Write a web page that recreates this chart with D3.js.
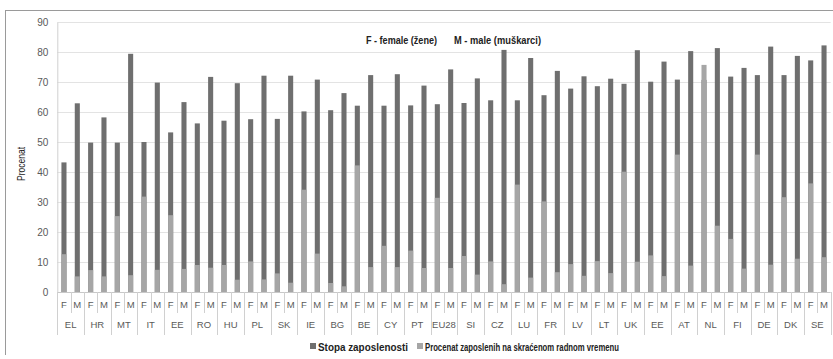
<!DOCTYPE html>
<html>
<head>
<meta charset="utf-8">
<script src="https://cdn.jsdelivr.net/npm/d3@7"></script>
<style>
  html, body { margin: 0; padding: 0; background: #fff; }
  svg { display: block; }
</style>
</head>
<body>
<svg id="chart" width="833" height="359"></svg>
<script>
const countries = ["EL","HR","MT","IT","EE","RO","HU","PL","SK","IE","BG","BE","CY","PT","EU28","SI","CZ","LU","FR","LV","LT","UK","EE","AT","NL","FI","DE","DK","SE"];
const sexes = ["F","M"];
const employmentF = [43.2,49.8,49.8,50.0,53.2,56.2,57.1,57.6,57.7,60.2,60.6,62.1,62.1,62.2,62.6,63.0,63.9,63.9,65.6,67.8,68.6,69.4,70.1,70.8,70.7,71.8,72.3,72.3,77.2];
const employmentM = [62.9,58.2,79.4,69.8,63.3,71.7,69.6,72.1,72.1,70.8,66.3,72.3,72.6,68.8,74.2,71.2,80.7,78.0,73.7,71.9,71.1,80.6,76.8,80.3,81.3,74.7,81.8,78.7,82.2];
const partTimeF = [12.6,7.3,25.3,31.8,25.6,9.0,9.0,10.2,6.2,34.1,3.0,42.2,15.4,13.8,31.4,12.0,10.2,35.8,30.2,9.3,10.3,40.1,12.2,45.8,75.7,17.7,45.8,31.6,36.2];
const partTimeM = [5.2,5.2,5.6,7.4,7.7,8.1,4.1,4.2,3.1,12.8,1.9,8.3,8.3,8.0,8.0,5.8,2.6,4.8,6.6,5.4,6.3,10.1,5.3,8.8,22.1,7.8,9.1,11.1,11.6];
const yTicks = [0,10,20,30,40,50,60,70,80,90];
const seriesNames = ["Stopa zaposlenosti","Procenat zaposlenih na skraćenom radnom vremenu"];

(function(){
const colDark = "#6f6f6f", colLight = "#a6a6a6";
const narrow = "'Liberation Sans Narrow','Arial Narrow','Liberation Sans',sans-serif";
const tickFont = "'Liberation Sans','Arial',sans-serif";

const svg = d3.select("#chart");
const pLeft = 57.3, pRight = 830.7, pTop = 22, pBottom = 292;

// frame
svg.append("line").attr("x1",5).attr("x2",833).attr("y1",10.5).attr("y2",10.5).attr("stroke","#9a9a9a");
svg.append("line").attr("x1",5.5).attr("x2",5.5).attr("y1",10).attr("y2",355).attr("stroke","#9a9a9a");

const keys = countries.map((c,i)=>i);
const x0 = d3.scaleBand().domain(keys).range([pLeft,pRight]).paddingInner(0).paddingOuter(0);
const x1 = d3.scaleBand().domain(sexes).range([0,x0.bandwidth()]).paddingInner(0.62).paddingOuter(0.31);
const y = d3.scaleLinear().domain([0,90]).range([pBottom,pTop]);

// gridlines
svg.append("g").selectAll("line").data(yTicks.filter(d=>d>0)).join("line")
  .attr("x1",pLeft).attr("x2",pRight)
  .attr("y1",d=>Math.round(y(d))+0.5).attr("y2",d=>Math.round(y(d))+0.5)
  .attr("stroke","#e3e3e3");

// y axis
const yAxis = d3.axisLeft(y).tickValues(yTicks).tickSize(0).tickPadding(9);
const gy = svg.append("g").attr("transform",`translate(${pLeft},0)`).call(yAxis);
gy.select(".domain").attr("stroke","#d0d0d0");
gy.selectAll("text").attr("font-family",tickFont).attr("font-size","10px").attr("fill","#595959");

// bars
const rows = [];
countries.forEach((c,i)=>{
  rows.push({k:i, s:"F", emp:employmentF[i], pt:partTimeF[i]});
  rows.push({k:i, s:"M", emp:employmentM[i], pt:partTimeM[i]});
});
const gb = svg.append("g");
gb.selectAll("rect.emp").data(rows).join("rect").attr("class","emp")
  .attr("x",d=>x0(d.k)+x1(d.s)).attr("width",x1.bandwidth())
  .attr("y",d=>y(d.emp)).attr("height",d=>y(0)-y(d.emp)).attr("fill",colDark);
gb.selectAll("rect.pt").data(rows).join("rect").attr("class","pt")
  .attr("x",d=>x0(d.k)+x1(d.s)).attr("width",x1.bandwidth())
  .attr("y",d=>y(d.pt)).attr("height",d=>y(0)-y(d.pt)).attr("fill",colLight);

// x axis (multi-level)
const gx = svg.append("g");
gx.append("line").attr("x1",pLeft).attr("x2",pRight).attr("y1",pBottom+0.5).attr("y2",pBottom+0.5).attr("stroke","#c8c8c8");
const seps = [];
keys.forEach(k=>{
  seps.push({x:x0(k), long:true});
  seps.push({x:x0(k)+x0.bandwidth()/2, long:false});
});
seps.push({x:x0(keys[keys.length-1])+x0.bandwidth(), long:true});
gx.selectAll("line.sep").data(seps).join("line").attr("class","sep")
  .attr("x1",d=>Math.round(d.x)+0.5).attr("x2",d=>Math.round(d.x)+0.5)
  .attr("y1",pBottom).attr("y2",d=>d.long?335:313)
  .attr("stroke","#d0d0d0");
gx.selectAll("text.sx").data(rows).join("text").attr("class","sx")
  .attr("x",d=>x0(d.k)+x1(d.s)+x1.bandwidth()/2).attr("y",308)
  .attr("text-anchor","middle").attr("font-family",tickFont).attr("font-size","9.5px").attr("fill","#595959")
  .text(d=>d.s);
gx.selectAll("text.cx").data(keys).join("text").attr("class","cx")
  .attr("x",d=>x0(d)+x0.bandwidth()/2).attr("y",328)
  .attr("text-anchor","middle").attr("font-family",tickFont).attr("font-size","9.5px").attr("fill","#595959")
  .text(d=>countries[d]);

// y title
svg.append("text").attr("transform","translate(25,164) rotate(-90)")
  .attr("text-anchor","middle").attr("font-family",narrow).attr("font-size","11px").attr("fill","#222")
  .attr("textLength",34).attr("lengthAdjust","spacingAndGlyphs")
  .text("Procenat");

// annotation
svg.append("text").attr("x",366).attr("y",44).attr("font-family",narrow).attr("font-size","11px").attr("fill","#222").attr("font-weight","bold")
  .attr("textLength",71).attr("lengthAdjust","spacingAndGlyphs")
  .text("F - female (žene)");
svg.append("text").attr("x",454).attr("y",44).attr("font-family",narrow).attr("font-size","11px").attr("fill","#222").attr("font-weight","bold")
  .attr("textLength",87).attr("lengthAdjust","spacingAndGlyphs")
  .text("M - male (muškarci)");

// legend
const legX = [310, 417];
const legLen = [90, 194];
const lg = svg.append("g");
seriesNames.forEach((n,i)=>{
  lg.append("rect").attr("x",legX[i]).attr("y",343).attr("width",6).attr("height",6).attr("fill",i===0?colDark:colLight);
  lg.append("text").attr("x",legX[i]+8).attr("y",350.5).attr("font-family",narrow).attr("font-size","11.5px").attr("fill","#222").attr("font-weight","bold")
    .attr("textLength",legLen[i]).attr("lengthAdjust","spacingAndGlyphs")
    .text(n);
});
})();
</script>
</body>
</html>
